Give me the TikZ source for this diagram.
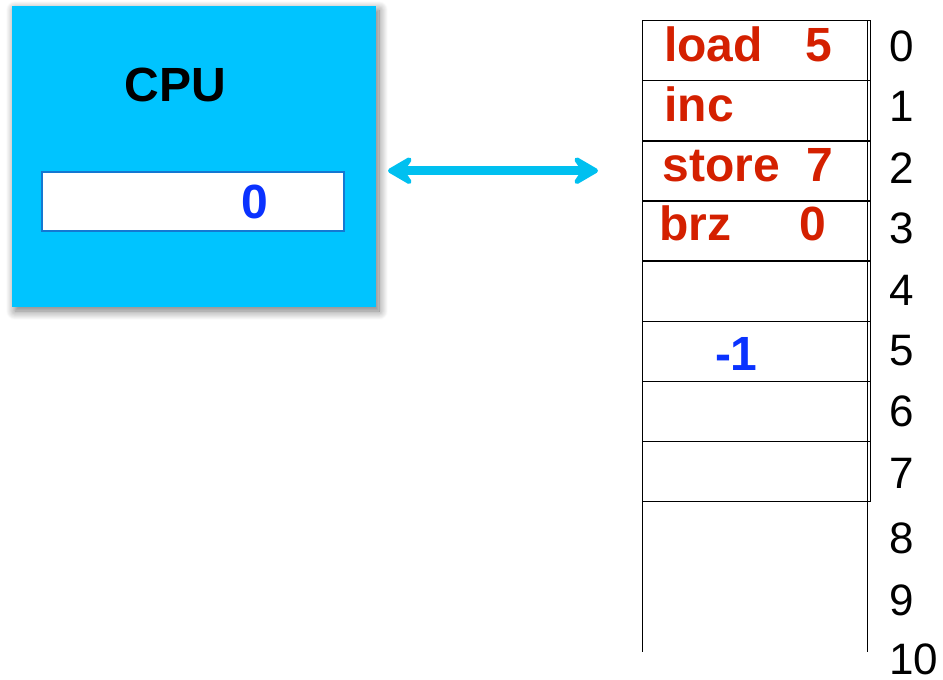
\documentclass[tikz,border=0pt]{standalone}
\usepackage{fontspec}
\setmainfont{Liberation Sans}
\usetikzlibrary{arrows.meta,shadows.blur}
\definecolor{cpucyan}{RGB}{0,196,255}
\definecolor{buscyan}{RGB}{0,192,240}
\definecolor{opred}{RGB}{212,32,0}
\definecolor{valblue}{RGB}{10,50,255}
\definecolor{regedge}{RGB}{20,120,210}
\begin{document}
\begin{tikzpicture}[x=1pt,y=-1pt,
  txt/.style={anchor=base west, inner sep=0pt, outer sep=0pt},
  op/.style={txt, font=\fontsize{48}{48}\selectfont\bfseries, text=opred},
  val/.style={txt, font=\fontsize{48}{48}\selectfont\bfseries, text=valblue},
  title/.style={txt, font=\fontsize{48}{48}\selectfont\bfseries, text=black},
  addr/.style={txt, font=\fontsize{44}{44}\selectfont, text=black},
  cell/.style={draw=black, line width=1.3pt, anchor=north west,
    minimum width=228pt, minimum height=60.1pt, inner sep=0pt, outer sep=0pt},
  memline/.style={draw=black, line width=1.3pt},
  bushead/.tip={Stealth[round,length=31pt,width=36pt,inset=12pt]},
  bus/.style={draw=buscyan, line width=9pt, bushead-bushead},
]
\useasboundingbox (0,0) rectangle (943,680);

% processor block with its register
\node[fill=cpucyan, anchor=north west, minimum width=364pt, minimum height=301pt,
  inner sep=0pt, outer sep=0pt,
  blur shadow={shadow xshift=3pt, shadow yshift=-4pt, shadow blur radius=9pt,
    shadow blur steps=12, shadow opacity=55}]
  (cpu) at (12,6) {};
\node[title] (cpulabel) at (124.6,101.7) {CPU};
\node[draw=regedge, fill=white, line width=1.3pt, anchor=north west,
  minimum width=302pt, minimum height=59pt, inner sep=0pt, outer sep=0pt]
  (reg) at (42,172) {};
\node[val] (regval) at (241.5,218.3) {0};

% bus between processor and memory
\coordinate (busL) at (388,170.7);
\coordinate (busR) at (598,170.7);
\draw[bus] (busL) -- (busR);

% memory cells 0..7
\foreach \i in {0,...,7}
  \node[cell] (m\i) at (642.7,{20.7+60.1*\i}) {};
\coordinate (colLtop) at (642.7,20.7);
\coordinate (colLbot) at (642.7,651.7);
\coordinate (colRtop) at (867.7,20.7);
\coordinate (colRbot) at (867.7,651.7);
\draw[memline] (colLtop) -- (colLbot);
\draw[memline] (colRtop) -- (colRbot);

% memory contents
\node[op] (op0) at (664,61.7) {load};
\node[op] (arg0) at (805,61.7) {5};
\node[op] (op1) at (664.5,121.7) {inc};
\node[op] (op2) at (662.5,181.7) {store};
\node[op] (arg2) at (806,181.7) {7};
\node[op] (op3) at (659,240.7) {brz};
\node[op] (arg3) at (799,240.7) {0};
\node[val] (d5) at (715,370) {-1};

% addresses
\foreach \i/\b in {0/61.7,1/121.7,2/183,3/243,4/305,5/365,6/426.7,7/488.3,8/553.3,9/615,10/674}
  \node[addr] (a\i) at (889.5,\b) {\i};
\end{tikzpicture}
\end{document}
